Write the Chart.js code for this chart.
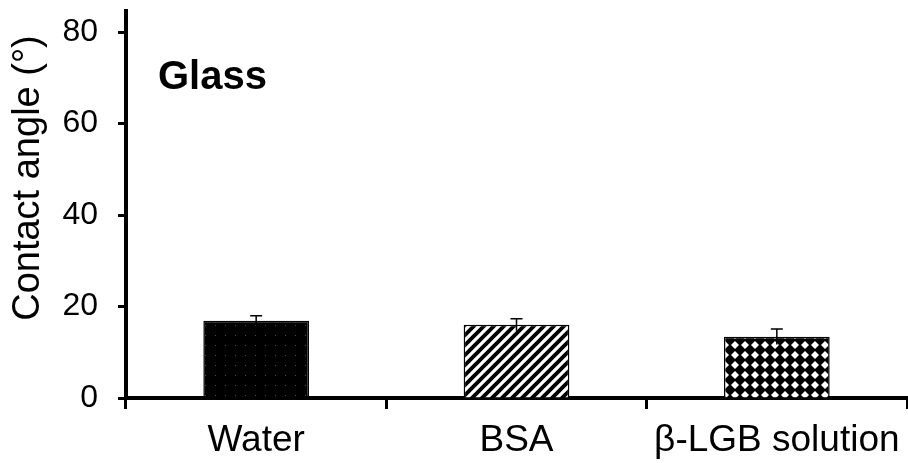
<!DOCTYPE html>
<html>
<head>
<meta charset="UTF-8">
<title>Contact angle - Glass</title>
<script src="https://cdn.jsdelivr.net/npm/chart.js"></script>
<style>
    html, body { margin: 0; padding: 0; background: #fff; }
    #wrap { width: 908px; height: 463px; }
</style>
</head>
<body>
<div id="wrap"><canvas id="chart"></canvas></div>
<script>
    const categories = ['Water', 'BSA', 'β-LGB solution'];
    const angles = [16.9, 16.0, 13.4];
    const errors = [1.1, 1.3, 1.7];
    const yTicks = [0, 20, 40, 60, 80];
    const yMax = 84.6;
    const panelLabel = 'Glass';
    const yTitle = 'Contact angle (°)';

    const FONT = '"Liberation Sans", Arial, sans-serif';

    function makePattern(size, draw) {
        const c = document.createElement('canvas');
        c.width = size;
        c.height = size;
        const g = c.getContext('2d');
        draw(g, size);
        return g.createPattern(c, 'repeat');
    }

    // black with faint dots
    const dotPattern = makePattern(10, (g, s) => {
        g.fillStyle = '#000';
        g.fillRect(0, 0, s, s);
        g.fillStyle = '#4a4a4a';
        g.fillRect(5, 5, 1, 1);
    });

    // "////" hatching
    const hatchPattern = makePattern(10, (g, s) => {
        g.fillStyle = '#fff';
        g.fillRect(0, 0, s, s);
        g.strokeStyle = '#000';
        g.lineWidth = 3.8;
        for (const c of [0, s, 2 * s]) {
            g.beginPath();
            g.moveTo(-2, c + 2);
            g.lineTo(c + 2, -2);
            g.stroke();
        }
    });

    // white diamonds on black
    const diamondPattern = makePattern(10, (g, s) => {
        g.fillStyle = '#000';
        g.fillRect(0, 0, s, s);
        g.fillStyle = '#fff';
        g.beginPath();
        g.moveTo(5, 1);
        g.lineTo(9, 5);
        g.lineTo(5, 9);
        g.lineTo(1, 5);
        g.closePath();
        g.fill();
    });

    const errorBars = {
        id: 'errorBars',
        afterDatasetsDraw(chart) {
            const ctx = chart.ctx;
            const y = chart.scales.y;
            const meta = chart.getDatasetMeta(0);
            ctx.save();
            ctx.strokeStyle = '#000';
            ctx.lineWidth = 1.5;
            meta.data.forEach((bar, i) => {
                const top = y.getPixelForValue(angles[i] + errors[i]);
                const bot = y.getPixelForValue(angles[i] - errors[i]);
                ctx.beginPath();
                ctx.moveTo(bar.x, bot);
                ctx.lineTo(bar.x, top);
                ctx.moveTo(bar.x - 6, top);
                ctx.lineTo(bar.x + 6, top);
                ctx.stroke();
            });
            ctx.restore();
        }
    };

    const labels = {
        id: 'labels',
        afterDraw(chart) {
            const ctx = chart.ctx;
            ctx.save();
            ctx.fillStyle = '#000';
            ctx.font = 'bold 40px ' + FONT;
            ctx.textAlign = 'left';
            ctx.textBaseline = 'alphabetic';
            ctx.fillText(panelLabel, chart.chartArea.left + 32, 89);

            ctx.font = '38px ' + FONT;
            ctx.translate(39, 178);
            ctx.rotate(-Math.PI / 2);
            ctx.textAlign = 'center';
            ctx.fillText(yTitle, 0, 0);
            ctx.restore();
        }
    };

    new Chart(document.getElementById('chart'), {
        type: 'bar',
        data: {
            labels: categories,
            datasets: [{
                data: angles,
                backgroundColor: [dotPattern, hatchPattern, diamondPattern],
                borderColor: '#000',
                borderWidth: 1.5,
                categoryPercentage: 1,
                barPercentage: 0.406
            }]
        },
        options: {
            responsive: true,
            maintainAspectRatio: false,
            animation: false,
            layout: { padding: { top: 11, right: 1, bottom: 0, left: 0 } },
            plugins: {
                legend: { display: false },
                tooltip: { enabled: false }
            },
            scales: {
                x: {
                    afterFit(scale) {
                        scale.height = 65;
                        scale.paddingLeft = 0;
                        scale.paddingRight = 0;
                    },
                    grid: {
                        offset: true,
                        drawOnChartArea: false,
                        drawTicks: true,
                        tickLength: 11,
                        tickWidth: 3,
                        tickColor: '#000'
                    },
                    border: { color: '#000', width: 4 },
                    ticks: {
                        color: '#000',
                        padding: 10,
                        font: { family: FONT, size: 37 }
                    }
                },
                y: {
                    min: 0,
                    max: yMax,
                    afterFit(scale) {
                        scale.width = 126;
                        scale.paddingTop = 0;
                        scale.paddingBottom = 0;
                    },
                    afterBuildTicks(scale) {
                        scale.ticks = yTicks.map(v => ({ value: v }));
                    },
                    grid: {
                        drawOnChartArea: false,
                        drawTicks: true,
                        tickLength: 8,
                        tickWidth: 3,
                        tickColor: '#000'
                    },
                    border: { color: '#000', width: 4 },
                    ticks: {
                        color: '#000',
                        padding: 20,
                        font: { family: FONT, size: 32 }
                    }
                }
            }
        },
        plugins: [errorBars, labels]
    });
</script>
</body>
</html>
